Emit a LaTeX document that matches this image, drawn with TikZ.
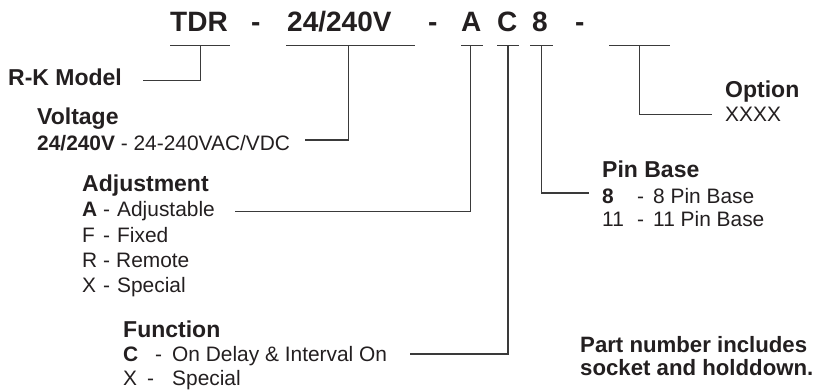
\documentclass[tikz,border=0pt]{standalone}
\usepackage{fontspec}
\setmainfont{Liberation Sans}
\definecolor{ink}{HTML}{231F20}
\definecolor{wire}{HTML}{3A3A3A}
\newcommand{\topf}{\fontsize{28}{32}\selectfont\bfseries}
\newcommand{\headf}{\fontsize{23}{27}\selectfont\bfseries}
\newcommand{\notef}{\fontsize{22.2}{26}\selectfont\bfseries}
\newcommand{\bodyf}{\fontsize{20.9}{24}\selectfont}
\begin{document}
\begin{tikzpicture}[x=1pt,y=-1pt,
  txt/.style={inner sep=0pt,anchor=base west,text=ink},
  code/.style={txt,font=\topf},
  head/.style={txt,font=\headf},
  note/.style={txt,font=\notef},
  body/.style={txt,font=\bodyf},
  wireline/.style={draw=wire,line width=1.2pt}]
\useasboundingbox (0,0) rectangle (817,391);
% top code row
\node[code] (tdr) at (170,31.7) {TDR};
\node[code] (d1) at (251,31.7) {-};
\node[code] (volt) at (287,31.7) {24/240V};
\node[code] (d2) at (428,31.7) {-};
\node[code] (adj) at (461,31.7) {A};
\node[code] (fun) at (497,31.7) {C};
\node[code] (pin) at (532,31.7) {8};
\node[code] (d3) at (575,31.7) {-};
% underline coordinates
\coordinate (u1a) at (170,45.5); \coordinate (u1b) at (230,45.5);
\coordinate (u2a) at (286,45.5); \coordinate (u2b) at (415,45.5);
\coordinate (u3a) at (461,45.5); \coordinate (u3b) at (483,45.5);
\coordinate (u4a) at (497,45.5); \coordinate (u4b) at (519,45.5);
\coordinate (u5a) at (530,45.5); \coordinate (u5b) at (553,45.5);
\coordinate (u6a) at (609,45.5); \coordinate (u6b) at (670,45.5);
% stems
\coordinate (s1) at (200.7,45.5); \coordinate (c1) at (200.7,80.7); \coordinate (e1) at (143,80.7);
\coordinate (s2) at (348.3,45.5); \coordinate (c2) at (348.3,140); \coordinate (e2) at (305,140);
\coordinate (s3) at (470.3,45.5); \coordinate (c3) at (470.3,211.5); \coordinate (e3) at (235,211.5);
\coordinate (s4) at (508,45.5); \coordinate (c4) at (508,354); \coordinate (e4) at (410,354);
\coordinate (s5) at (541.3,45.5); \coordinate (c5) at (541.3,193); \coordinate (e5) at (589,193);
\coordinate (s6) at (639.3,45.5); \coordinate (c6) at (639.3,114.3); \coordinate (e6) at (712,114.3);
\draw[wireline] (u1a) -- (u1b);
\draw[wireline] (u2a) -- (u2b);
\draw[wireline] (u3a) -- (u3b);
\draw[wireline] (u4a) -- (u4b);
\draw[wireline] (u5a) -- (u5b);
\draw[wireline] (u6a) -- (u6b);
\draw[wireline] (s1) -- (c1) -- (e1);
\draw[wireline] (s2) -- (c2) -- (e2);
\draw[wireline] (s3) -- (c3) -- (e3);
\draw[wireline] (s4) -- (c4) -- (e4);
\draw[wireline] (s5) -- (c5) -- (e5);
\draw[wireline] (s6) -- (c6) -- (e6);
% R-K Model
\node[head] (rk) at (8,85) {R-K Model};
% Voltage
\node[head] (vh) at (37,124) {Voltage};
\node[body] (v1) at (37,150) {\textbf{24/240V} - 24-240VAC/VDC};
% Adjustment
\node[head] (ah) at (82,191.5) {Adjustment};
\node[body] (a1) at (82,216.7) {\makebox[21pt][l]{\textbf{A}}\makebox[14pt][l]{-}Adjustable};
\node[body] (a2) at (82,242) {\makebox[21pt][l]{F}\makebox[14pt][l]{-}Fixed};
\node[body] (a3) at (82,267) {\makebox[21pt][l]{R}\makebox[13pt][l]{-}Remote};
\node[body] (a4) at (82,292.7) {\makebox[21pt][l]{X}\makebox[14pt][l]{-}Special};
% Function
\node[head] (fh) at (123,337) {Function};
\node[body] (f1) at (123,361.7) {\makebox[32pt][l]{\textbf{C}}\makebox[17pt][l]{-}On Delay \& Interval On};
\node[body] (f2) at (123,385) {\makebox[24pt][l]{X}\makebox[25pt][l]{-}Special};
% Pin Base
\node[head] (ph) at (602,177.7) {Pin Base};
\node[body] (p1) at (602,203.3) {\makebox[35pt][l]{\textbf{8}}\makebox[16pt][l]{-}8 Pin Base};
\node[body] (p2) at (602,226.7) {\makebox[35pt][l]{11}\makebox[16pt][l]{-}11 Pin Base};
% Option
\node[head] (oh) at (725,97.7) {Option};
\node[body] (o1) at (725,121.7) {XXXX};
% note
\node[note] (n1) at (580,352.7) {Part number includes};
\node[note] (n2) at (580,375) {socket and holddown.};
\end{tikzpicture}
\end{document}
